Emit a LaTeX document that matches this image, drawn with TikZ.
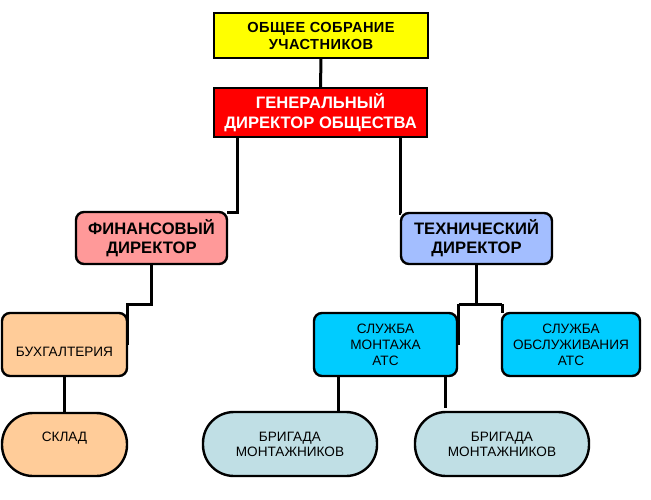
\documentclass[tikz,border=0pt]{standalone}
\usepackage{fontspec}
\setmainfont{Liberation Sans}
\usetikzlibrary{calc,backgrounds}
\definecolor{cyel}{HTML}{FFFF00}
\definecolor{cred}{HTML}{FF0000}
\definecolor{cpink}{HTML}{FF9999}
\definecolor{cblue}{HTML}{A3BEFF}
\definecolor{ccyan}{HTML}{00CCFF}
\definecolor{cpeach}{HTML}{FFCC99}
\definecolor{cteal}{HTML}{C0DFE5}
\begin{document}
\begin{tikzpicture}[x=1pt,y=-1pt,
  box/.style={draw=black,line width=2.4pt,align=center,inner sep=0pt,outer sep=0pt},
  topbox/.style={box,font=\bfseries\fontsize{14.6}{17}\selectfont\addfontfeatures{LetterSpace=3}},
  dirbox/.style={box,rounded corners=8pt,font=\bfseries\fontsize{16.6}{19}\selectfont},
  srvbox/.style={box,rounded corners=8pt,font=\fontsize{13.6}{16}\selectfont},
  pill/.style={box,rounded corners=31pt,font=\fontsize{13.6}{15}\selectfont},
  txt/.style={inner sep=0pt,font=\fontsize{13.6}{15}\selectfont},
  conn/.style={line width=3pt,draw=black}]
\useasboundingbox (0,0) rectangle (651,500);
\node[topbox,fill=cyel,minimum width=214pt,minimum height=45pt] (sob) at (321,35.5) {ОБЩЕЕ СОБРАНИЕ\\УЧАСТНИКОВ};
\node[box,fill=cred,text=white,line width=1.6pt,minimum width=213pt,minimum height=49pt,font=\bfseries\fontsize{16.6}{20}\selectfont] (gen) at (320.5,112.5) {ГЕНЕРАЛЬНЫЙ\\ДИРЕКТОР ОБЩЕСТВА};
\node[dirbox,fill=cpink,minimum width=151pt,minimum height=52pt] (fin) at (151.5,238) {ФИНАНСОВЫЙ\\ДИРЕКТОР};
\node[dirbox,fill=cblue,minimum width=151pt,minimum height=51pt] (tech) at (476.5,238.5) {ТЕХНИЧЕСКИЙ\\ДИРЕКТОР};
\node[srvbox,fill=cpeach,minimum width=125pt,minimum height=63pt] (bux) at (64.5,344.5) {};
\node[txt] (buxt) at ([yshift=-7.5pt]bux.center) {БУХГАЛТЕРИЯ};
\node[pill,fill=cpeach,minimum width=125pt,minimum height=63pt] (skl) at (64.5,444.5) {};
\node[txt] (sklt) at ([yshift=6pt]skl.center) {СКЛАД};
\node[srvbox,fill=ccyan,minimum width=143pt,minimum height=63pt] (mon) at (385.5,344.5) {СЛУЖБА\\МОНТАЖА\\АТС};
\node[srvbox,fill=ccyan,minimum width=138pt,minimum height=63pt] (obs) at (571,344.5) {СЛУЖБА\\ОБСЛУЖИВАНИЯ\\АТС};
\node[pill,fill=cteal,minimum width=174pt,minimum height=64pt] (br1) at (290,444) {БРИГАДА\\МОНТАЖНИКОВ};
\node[pill,fill=cteal,minimum width=174pt,minimum height=64pt] (br2) at (502,444) {БРИГАДА\\МОНТАЖНИКОВ};
\begin{pgfonlayer}{background}
\fill[white] (0,0) rectangle (651,500);
\coordinate (g1) at ([xshift=23pt]gen.south west);
\coordinate (g2) at ([xshift=-27pt]gen.south east);
\coordinate (fl) at (127,304);
\coordinate (tl) at (458.5,304);
\coordinate (tr) at (502,304);
\coordinate (m1) at ([xshift=24pt]mon.south west);
\coordinate (m2) at ([xshift=-12pt]mon.south east);
\draw[conn] (sob.south) -- (gen.north);
\draw[conn] (g1) |- (fin.north east);
\draw[conn] (g2) |- (tech.north west);
\draw[conn] (fin.south) |- (fl) -- (fl |- bux.east);
\draw[conn] (bux.south) -- (skl.north);
\draw[conn] (tech.south) -- (tech.south |- tl);
\draw[conn] (tl) -- (tr);
\draw[conn] (tl) -- (tl |- mon.east);
\draw[conn] (tr) -- (obs.north west);
\draw[conn] (m1) -- (m1 |- br1.north);
\draw[conn] (m2) -- ([yshift=4pt]m2 |- br2.north);
\end{pgfonlayer}
\end{tikzpicture}
\end{document}
